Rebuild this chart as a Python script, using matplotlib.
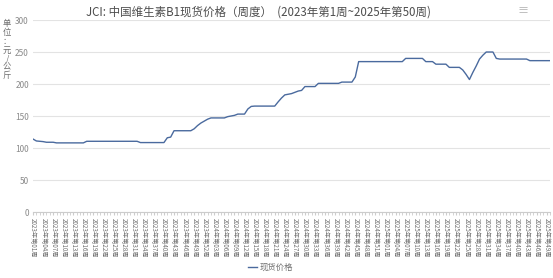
import matplotlib
matplotlib.use("Agg")
import matplotlib.pyplot as plt

plt.rcParams['font.family'] = ['Noto Sans CJK SC', 'DejaVu Sans']

# weekly spot price, yuan/kg
years = [2023, 2024, 2025]
weeks_in_year = [52, 53, 50]

prices_2023 = [114, 111, 110.5, 110, 109, 109, 109,
               108, 108, 108, 108, 108, 108, 108, 108, 108,
               110.5, 110.5, 110.5, 110.5, 110.5, 110.5, 110.5, 110.5,
               110.5, 110.5, 110.5, 110.5, 110.5, 110.5, 110.5, 110.5,
               108.5, 108.5, 108.5, 108.5, 108.5, 108.5, 108.5, 108.5,
               116, 117, 127, 127, 127, 127, 127, 127, 130, 135, 139, 142]
prices_2024 = [145, 147, 147, 147, 147, 147, 149, 150, 151, 153, 153, 153,
               161, 165, 165.5, 165.5, 165.5, 165.5, 165.5, 165.5, 165.5,
               172, 178, 183, 184, 185, 187, 189, 190,
               196, 196, 196, 196, 201, 201, 201, 201, 201, 201, 201,
               203, 203, 203, 203, 211,
               235, 235, 235, 235, 235, 235, 235, 235]
prices_2025 = [235, 235, 235, 235, 235, 235, 240, 240, 240, 240, 240, 240,
               235, 235, 235, 231, 231, 231, 231, 226, 226, 226, 226,
               222, 215, 207, 218, 228, 239, 245, 250, 250, 250, 240,
               239, 239, 239, 239, 239, 239, 239, 239, 239,
               236.5, 236.5, 236.5, 236.5, 236.5, 236.5, 236.5]

week_labels = [f"{y}年第{w:02d}周" for y, n in zip(years, weeks_in_year)
               for w in range(1, n + 1)]
prices = prices_2023 + prices_2024 + prices_2025

y_ticks = [0, 50, 100, 150, 200, 250, 300]

fig = plt.figure(figsize=(5.53, 2.78), dpi=100)
ax = fig.add_axes([0.0597, 0.2374, 0.9349, 0.6906])

x = list(range(len(prices)))
ax.plot(x, prices, color='#4a6a9e', linewidth=1.0, label='现货价格')

ax.set_xlim(0, len(prices) - 1)
ax.set_ylim(0, 300)
ax.set_yticks(y_ticks)
ax.set_yticklabels([str(v) for v in y_ticks], fontsize=6, color='#8a8a8a')
ax.tick_params(axis='y', length=0, pad=3)
ax.grid(axis='y', color='#e3e3e3', linewidth=0.8)
ax.set_axisbelow(True)

ax.set_xticks(x[::3])
ax.set_xticklabels(week_labels[::3], rotation=-90, fontsize=4.5,
                   color='#6e6e6e')
ax.set_xticks(x, minor=True)
ax.tick_params(axis='x', which='both', length=2, color='#cccccc', pad=2)

for side in ['top', 'right', 'left']:
    ax.spines[side].set_visible(False)
ax.spines['bottom'].set_color('#cccccc')
ax.spines['bottom'].set_linewidth(0.8)

fig.text(0.468, 0.955, "JCI: 中国维生素B1现货价格（周度）  (2023年第1周~2025年第50周)",
         ha='center', va='center', fontsize=8.3, color='#4d4d4d')
fig.text(0.945, 0.96, "≡", ha='center', va='center', fontsize=8,
         color='#b0b0b0')
fig.text(0.013, 0.93, "\n".join("单位：元/公斤"), ha='center', va='top',
         fontsize=6, color='#6e6e6e', linespacing=0.95)

leg = fig.legend(loc='lower center', bbox_to_anchor=(0.49, -0.005), frameon=False,
                 fontsize=6, handlelength=1.0, handletextpad=0.4)
for t in leg.get_texts():
    t.set_color('#6e6e6e')

fig.savefig('out.png', dpi=100)
